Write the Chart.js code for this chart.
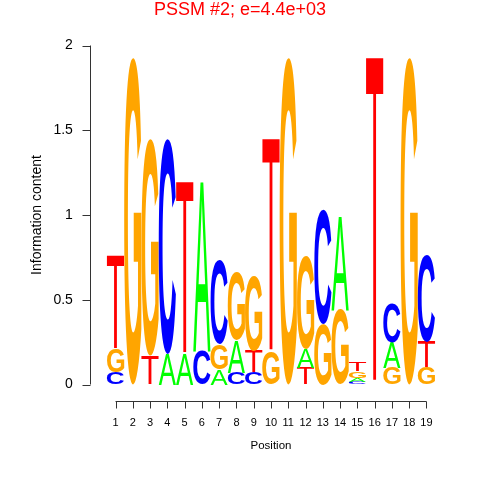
<!DOCTYPE html>
<html>
<head>
<meta charset="utf-8">
<script src="https://cdn.jsdelivr.net/npm/chart.js@4"></script>
<style>
    body { margin: 0; background: #fff; }
</style>
</head>
<body>
<canvas id="logo" width="480" height="480"></canvas>
<script>
    'use strict';

    // information content of each base at each position (bits)
    var positions = ['1', '2', '3', '4', '5', '6', '7', '8', '9', '10',
        '11', '12', '13', '14', '15', '16', '17', '18', '19'];
    var heightA = [0, 0, 0, 0.18, 0.18, 1.0, 0.09, 0.19, 0, 0, 0, 0.11, 0, 0.55, 0.025, 0, 0.15, 0, 0];
    var heightC = [0.07, 0, 0, 1.27, 0, 0.2, 0.5, 0.07, 0.07, 0, 0, 0, 0.68, 0, 0.015, 0, 0.23, 0, 0.51];
    var heightG = [0.14, 1.93, 1.28, 0, 0, 0, 0.15, 0.40, 0.44, 0.19, 1.93, 0.55, 0.36, 0.44, 0.04, 0, 0.10, 1.93, 0.10];
    var heightT = [0.55, 0, 0.17, 0, 1.02, 0, 0, 0, 0.13, 1.26, 0, 0.10, 0, 0, 0.05, 1.93, 0, 0, 0.15];
    var yTicks = [0, 0.5, 1, 1.5, 2];

    var letterRows = {A: heightA, C: heightC, G: heightG, T: heightT},
        letterColors = {A: '#00FF00', C: '#0000FF', G: '#FFA500', T: '#FF0000'},
        letterWeight = {A: 'normal', C: 'bold', G: 'bold', T: 'normal'};

    // smallest letter at the bottom of each column
    var stacks = positions.map(function (p, i) {
        return ['A', 'C', 'G', 'T'].map(function (l) {
            return {letter: l, h: letterRows[l][i]};
        }).filter(function (o) {
            return o.h > 0;
        }).sort(function (a, b) {
            return a.h - b.h;
        });
    });
    var depth = Math.max.apply(null, stacks.map(function (s) { return s.length; }));

    var datasets = [];
    for (var k = 0; k < depth; k++) {
        datasets.push({
            data: stacks.map(function (s) { return s[k] ? s[k].h : 0; }),
            letters: stacks.map(function (s) { return s[k] ? s[k].letter : null; }),
            backgroundColor: 'rgba(0,0,0,0)',
            borderWidth: 0,
            barPercentage: 1,
            categoryPercentage: 1
        });
    }

    function drawGlyph(ctx, letter, x, y, w, h) {
        ctx.save();
        ctx.font = letterWeight[letter] + ' 100px "Liberation Sans"';
        ctx.textAlign = 'left';
        ctx.textBaseline = 'alphabetic';
        var m = ctx.measureText(letter),
            gw = m.actualBoundingBoxLeft + m.actualBoundingBoxRight,
            gh = m.actualBoundingBoxAscent + m.actualBoundingBoxDescent;
        ctx.translate(x, y);
        ctx.scale(w / gw, h / gh);
        ctx.fillStyle = letterColors[letter];
        ctx.fillText(letter, m.actualBoundingBoxLeft, m.actualBoundingBoxAscent);
        ctx.restore();
    }

    var letterPlugin = {
        id: 'letters',
        afterDatasetsDraw: function (chart) {
            var ctx = chart.ctx;
            chart.data.datasets.forEach(function (ds, di) {
                chart.getDatasetMeta(di).data.forEach(function (bar, i) {
                    var letter = ds.letters[i];
                    if (!letter) return;
                    var p = bar.getProps(['x', 'y', 'base', 'width'], true),
                        top = Math.min(p.y, p.base),
                        h = Math.abs(p.base - p.y);
                    if (h < 0.5) return;
                    drawGlyph(ctx, letter, p.x - p.width / 2, top, p.width, h);
                });
            });
        }
    };

    // R style axes, set apart from the plot region
    var axisPlugin = {
        id: 'rAxes',
        afterDraw: function (chart) {
            var ctx = chart.ctx,
                xs = chart.scales.x,
                ys = chart.scales.y,
                ax = Math.round(chart.chartArea.left - 17) + 0.5,
                ay = Math.round(chart.chartArea.bottom + 16.5) + 0.5;
            ctx.save();
            ctx.strokeStyle = '#333';
            ctx.lineWidth = 1;
            ctx.beginPath();
            ctx.moveTo(ax, ys.getPixelForValue(yTicks[0]));
            ctx.lineTo(ax, ys.getPixelForValue(yTicks[yTicks.length - 1]));
            yTicks.forEach(function (v) {
                var py = Math.round(ys.getPixelForValue(v)) + 0.5;
                ctx.moveTo(ax, py);
                ctx.lineTo(ax - 8, py);
            });
            ctx.moveTo(xs.getPixelForValue(0), ay);
            ctx.lineTo(xs.getPixelForValue(positions.length - 1), ay);
            positions.forEach(function (p, i) {
                var px = Math.round(xs.getPixelForValue(i)) + 0.5;
                ctx.moveTo(px, ay);
                ctx.lineTo(px, ay + 7);
            });
            ctx.stroke();
            ctx.restore();
        }
    };

    Chart.defaults.font.family = '"Liberation Sans", Arial, sans-serif';
    Chart.defaults.color = '#000';

    new Chart(document.getElementById('logo').getContext('2d'), {
        type: 'bar',
        data: {
            labels: positions,
            datasets: datasets
        },
        options: {
            responsive: false,
            animation: false,
            devicePixelRatio: 1,
            layout: {padding: 0},
            plugins: {
                legend: {display: false},
                tooltip: {enabled: false},
                title: {
                    display: true,
                    text: 'PSSM #2; e=4.4e+03',
                    color: '#FF0000',
                    font: {size: 18, weight: 'normal', lineHeight: 1},
                    padding: {top: 1, bottom: 26.5}
                }
            },
            scales: {
                x: {
                    stacked: true,
                    grid: {display: false, drawTicks: false},
                    border: {display: false},
                    ticks: {font: {size: 11}, padding: 32, maxRotation: 0, autoSkip: false},
                    title: {display: true, text: 'Position', font: {size: 11.5}, padding: {top: 0, bottom: 27}},
                    afterFit: function (scale) { scale.height = 95.5; }
                },
                y: {
                    stacked: true,
                    min: 0,
                    max: 2,
                    grid: {display: false, drawTicks: false},
                    border: {display: false},
                    ticks: {
                        stepSize: 0.5,
                        font: {size: 14},
                        padding: 34,
                        callback: function (v) { return String(v); }
                    },
                    title: {display: true, text: 'Information content', font: {size: 14}, padding: {top: 29, bottom: 0}},
                    afterFit: function (scale) { scale.width = 106.9; }
                },
                spare: {
                    type: 'linear',
                    position: 'right',
                    grid: {display: false},
                    border: {display: false},
                    ticks: {display: false},
                    afterFit: function (scale) { scale.width = 44.9; }
                }
            }
        },
        plugins: [letterPlugin, axisPlugin]
    });
</script>
</body>
</html>
